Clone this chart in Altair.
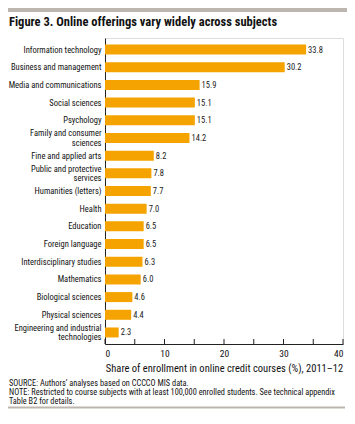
import altair as alt
import pandas as pd

categories = [
    "Information technology",
    "Business and management",
    "Media and communications",
    "Social sciences",
    "Psychology",
    "Family and consumer|sciences",
    "Fine and applied arts",
    "Public and protective|services",
    "Humanities (letters)",
    "Health",
    "Education",
    "Foreign language",
    "Interdisciplinary studies",
    "Mathematics",
    "Biological sciences",
    "Physical sciences",
    "Engineering and industrial|technologies",
]
values = [33.8, 30.2, 15.9, 15.1, 15.1, 14.2, 8.2, 7.8, 7.7, 7.0, 6.5, 6.5, 6.3, 6.0, 4.6, 4.4, 2.3]
tick_values = [0, 5, 10, 15, 20, 25, 30, 35, 40]

title_text = "Figure 3. Online offerings vary widely across subjects"
x_title = "Share of enrollment in online credit courses (%),  2011\u201312"
source_text = "SOURCE: Authors\u2019 analyses based on CCCCO MIS data."
note_line1 = "NOTE: Restricted to course subjects with at least 100,000 enrolled students. See technical appendix"
note_line2 = "Table B2 for details."

FONT = "Roboto Condensed, Lato"
ORANGE = "#F5A300"
GRAY = "#BDB6AE"
W, H = 238, 306
PAD_L, PAD_T, PAD_R, PAD_B = 97, 30, 4, 65

df = pd.DataFrame({"cat": categories, "val": values})
df["two"] = df["cat"].str.contains(r"\|")

x_scale = alt.Scale(domain=[0, 40], nice=False)
y_scale = alt.Scale(paddingInner=0.435, paddingOuter=0.37)

bars = alt.Chart(df).mark_bar(color=ORANGE).encode(
    x=alt.X(
        "val:Q",
        scale=x_scale,
        title=x_title,
        axis=alt.Axis(
            values=tick_values,
            ticks=False,
            grid=False,
            labelFont=FONT,
            labelFontSize=9.5,
            labelColor="#111",
            labelPadding=4,
            titleFont=FONT,
            titleFontSize=10.5,
            titleFontWeight="normal",
            titleColor="#111",
            titlePadding=6,
            domainColor="#222",
        ),
    ),
    y=alt.Y(
        "cat:N",
        sort=categories,
        title=None,
        scale=y_scale,
        axis=alt.Axis(ticks=False, labels=False, domainColor="#222"),
    ),
)

values_text = alt.Chart(df).mark_text(
    align="left", baseline="middle", dx=2, font=FONT, fontSize=8.5, color="#222"
).encode(
    x=alt.X("val:Q", scale=x_scale),
    y=alt.Y("cat:N", sort=categories),
    text=alt.Text("val:Q", format=".1f"),
)

def cat_labels(two, dy):
    return alt.Chart(df).transform_filter(
        alt.datum.two if two else ~alt.datum.two
    ).mark_text(
        align="right", baseline="middle", lineBreak="|", lineHeight=9.5,
        font=FONT, fontSize=8.5, color="#111", dy=dy
    ).encode(
        x=alt.value(-3.5),
        y=alt.Y("cat:N", sort=categories),
        text="cat:N",
    )

ticks_df = pd.DataFrame({"t": tick_values})
ticks = alt.Chart(ticks_df).mark_rule(color="#222", strokeWidth=1).encode(
    x=alt.X("t:Q", scale=x_scale),
    y=alt.value(H - 5),
    y2=alt.value(H),
)

def text_layer(txt, y, size, weight="normal", font=FONT):
    return alt.Chart(pd.DataFrame({"t": [txt]})).mark_text(
        align="left", baseline="alphabetic", font=font, fontSize=size,
        fontWeight=weight, color="#111"
    ).encode(text="t:N", x=alt.value(-96), y=alt.value(y))

top_rule = alt.Chart(pd.DataFrame({"a": [0]})).mark_rule(color=GRAY, strokeWidth=4).encode(
    x=alt.value(-PAD_L), x2=alt.value(W + PAD_R), y=alt.value(-28)
)
bottom_rule = alt.Chart(pd.DataFrame({"a": [0]})).mark_rule(color=GRAY, strokeWidth=2).encode(
    x=alt.value(-PAD_L), x2=alt.value(W + PAD_R - 2), y=alt.value(369.5)
)

chart = alt.layer(
    bars,
    values_text,
    cat_labels(False, 0),
    cat_labels(True, -4.5),
    ticks,
    top_rule,
    bottom_rule,
    text_layer(title_text, -12.5, 12.5, "bold"),
    text_layer(source_text, 347.5, 8.3),
    text_layer(note_line1, 356.5, 8.3),
    text_layer(note_line2, 365.5, 8.3),
).properties(
    width=W,
    height=H,
    autosize=alt.AutoSizeParams(type="none"),
    padding={"left": PAD_L, "top": PAD_T, "right": PAD_R, "bottom": PAD_B},
).configure_view(stroke=None).configure(background="white")

chart.save("out.html", embed_options={"renderer": "svg", "actions": False})
